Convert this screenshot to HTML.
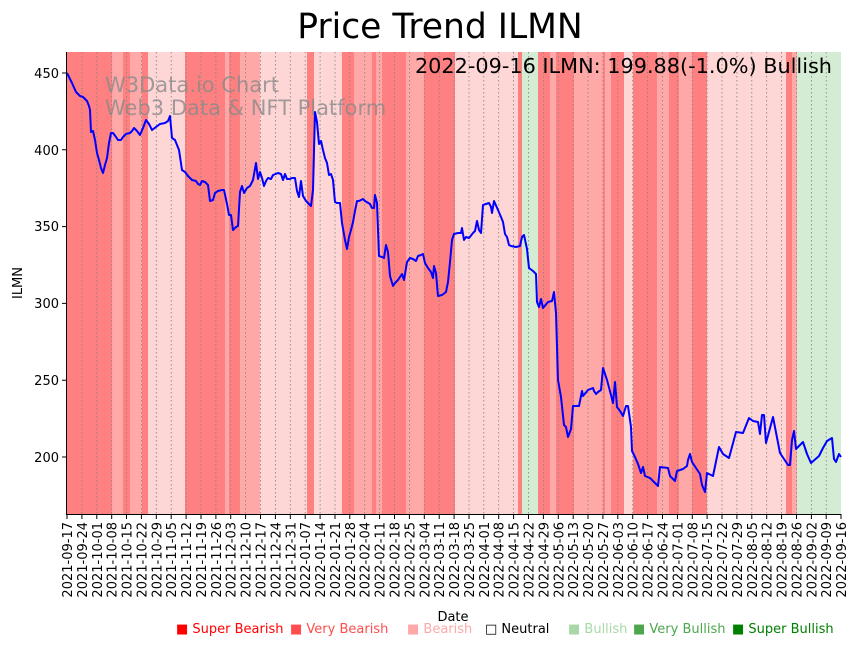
<!DOCTYPE html>
<html><head><meta charset="utf-8"><style>
body{margin:0;background:#fff}
svg text{font-family:"DejaVu Sans","Liberation Sans",sans-serif}
</style></head><body>
<svg width="857" height="646" xmlns="http://www.w3.org/2000/svg">
<rect width="857" height="646" fill="#fff"/>
<g>
<rect x="67" y="52" width="774" height="462" fill="#ffd6d6"/>
<rect x="67" y="52" width="45" height="462" fill="#ff8080"/>
<rect x="112" y="52" width="11" height="462" fill="#ffa8a8"/>
<rect x="123" y="52" width="7" height="462" fill="#ff8080"/>
<rect x="130" y="52" width="12" height="462" fill="#ffa8a8"/>
<rect x="142" y="52" width="6" height="462" fill="#ff8080"/>
<rect x="185" y="52" width="40" height="462" fill="#ff8080"/>
<rect x="225" y="52" width="4" height="462" fill="#ffa8a8"/>
<rect x="229" y="52" width="11" height="462" fill="#ff8080"/>
<rect x="240" y="52" width="20" height="462" fill="#ffa8a8"/>
<rect x="307" y="52" width="7" height="462" fill="#ff8080"/>
<rect x="342" y="52" width="12" height="462" fill="#ff8080"/>
<rect x="354" y="52" width="18" height="462" fill="#ffa8a8"/>
<rect x="372" y="52" width="4" height="462" fill="#ff8080"/>
<rect x="376" y="52" width="6" height="462" fill="#ffa8a8"/>
<rect x="382" y="52" width="24" height="462" fill="#ff8080"/>
<rect x="406" y="52" width="18" height="462" fill="#ffa8a8"/>
<rect x="424" y="52" width="31" height="462" fill="#ff8080"/>
<rect x="518" y="52" width="4" height="462" fill="#ff8080"/>
<rect x="522" y="52" width="16" height="462" fill="#d4ebd4"/>
<rect x="538" y="52" width="12" height="462" fill="#ff8080"/>
<rect x="550" y="52" width="6" height="462" fill="#ffa8a8"/>
<rect x="556" y="52" width="18" height="462" fill="#ff8080"/>
<rect x="574" y="52" width="29" height="462" fill="#ffa8a8"/>
<rect x="603" y="52" width="2" height="462" fill="#ff8080"/>
<rect x="605" y="52" width="6" height="462" fill="#ffa8a8"/>
<rect x="611" y="52" width="13" height="462" fill="#ff8080"/>
<rect x="633" y="52" width="24" height="462" fill="#ff8080"/>
<rect x="657" y="52" width="12" height="462" fill="#ffa8a8"/>
<rect x="669" y="52" width="10" height="462" fill="#ff8080"/>
<rect x="679" y="52" width="13" height="462" fill="#ffa8a8"/>
<rect x="692" y="52" width="15" height="462" fill="#ff8080"/>
<rect x="786" y="52" width="6" height="462" fill="#ff8080"/>
<rect x="792" y="52" width="5" height="462" fill="#ffa8a8"/>
<rect x="797" y="52" width="44" height="462" fill="#d4ebd4"/>
</g>
<g stroke="#808080" stroke-width="0.8" stroke-dasharray="1.5,2.5">
<path d="M81.9 52V514M96.8 52V514M111.7 52V514M126.5 52V514M141.4 52V514M156.3 52V514M171.2 52V514M186.1 52V514M201 52V514M215.9 52V514M230.7 52V514M245.6 52V514M260.5 52V514M275.4 52V514M290.3 52V514M305.2 52V514M320.1 52V514M335 52V514M349.8 52V514M364.7 52V514M379.6 52V514M394.5 52V514M409.4 52V514M424.3 52V514M439.2 52V514M454.1 52V514M469 52V514M483.8 52V514M498.7 52V514M513.6 52V514M528.5 52V514M543.4 52V514M558.3 52V514M573.2 52V514M588 52V514M602.9 52V514M617.8 52V514M632.7 52V514M647.6 52V514M662.5 52V514M677.4 52V514M692.3 52V514M707.1 52V514M722 52V514M736.9 52V514M751.8 52V514M766.7 52V514M781.6 52V514M796.5 52V514M811.4 52V514M826.2 52V514"/>
</g>
<text x="105" y="92" font-size="21" fill="#8a8a8a" fill-opacity="0.8">W3Data.io Chart</text>
<text x="105" y="115" font-size="21" fill="#8a8a8a" fill-opacity="0.8">Web3 Data &amp; NFT Platform</text>
<polyline fill="none" stroke="#0000ff" stroke-width="2" stroke-linejoin="round" points="67,73 72,83 76,92 80,96 83,97 87,101 89,106 90,110 91,132 93,131 95,140 97,153 99,160 101,168 103,173 105,165 107,158 109,143 111,133 113,133 116,137 118,140 121,140 123,137 126,134 130,133 132,131 134,128 137,131 140,135 143,128 146,120 149,124 152,130 156,127 160,124 165,123 168,121 170,116 172,138 175,140 177,145 179,150 182,170 185,172 188,176 192,180 196,181 198,184 200,185 202,181 205,182 208,185 210,201 213,200 215,193 218,191 222,190 224,190 227,204 229,215 231,215 233,230 236,227 238,226 240,192 242,186 244,193 247,188 250,186 253,180 256,163 258,179 260,172 262,178 264,186 266,181 268,178 271,179 273,175 278,173 281,174 283,180 285,174 287,179 290,179 292,178 295,178 297,191 299,197 301,181 303,196 306,201 309,204 311,206 313,190 315,112 317,122 319,144 321,141 323,150 325,158 327,163 329,175 331,174 333,180 335,202 337,203 340,203 342,223 345,240 347,249 349,237 351,230 353,222 355,211 357,201 359,201 363,199 365,201 370,204 372,208 374,208 375,195 377,203 379,256 382,257 384,258 386,245 388,252 390,276 393,286 395,283 398,280 402,274 404,280 407,262 410,258 413,259 416,261 418,256 421,255 423,254 425,263 428,268 431,272 433,278 434,266 436,273 438,296 442,295 446,292 448,282 450,262 452,240 454,234 458,233 461,233 462,228 464,240 466,237 469,238 473,233 475,231 477,221 479,230 481,233 483,205 486,204 489,203 491,207 492,213 494,201 498,210 501,217 503,222 505,234 507,237 509,245 511,246 516,247 520,246 522,237 524,235 527,249 529,268 533,271 536,274 537,302 539,307 541,299 543,308 548,302 552,301 554,292 556,313 558,380 561,397 564,425 566,427 568,437 571,429 573,406 575,406 579,406 582,391 583,396 588,390 593,388 594,391 596,394 598,392 601,390 603,368 607,380 611,395 613,403 615,382 617,407 620,411 623,416 626,406 628,406 631,427 632,451 635,457 638,464 641,473 643,467 645,476 650,478 655,483 658,486 660,467 668,468 670,476 672,478 675,481 677,471 683,469 687,466 688,460 690,454 692,462 696,468 700,474 702,485 705,492 707,473 713,476 719,447 723,454 729,458 736,432 743,433 749,418 753,421 758,422 760,434 762,415 764,415 766,443 773,417 780,453 788,465 790,465 792,440 794,431 796,449 803,442 807,454 811,463 819,456 823,448 827,441 832,438 834,459 836,462 839,454 841,457"/>
<g stroke="#000" stroke-width="1" fill="none">
<path d="M66.5 52V514.5H841"/>
<path d="M62 73H67M62 149.8H67M62 226.6H67M62 303.4H67M62 380.2H67M62 457H67"/>
</g>
<g stroke="#000" stroke-width="1">
<path d="M67 514v5M81.9 514v5M96.8 514v5M111.7 514v5M126.5 514v5M141.4 514v5M156.3 514v5M171.2 514v5M186.1 514v5M201 514v5M215.9 514v5M230.7 514v5M245.6 514v5M260.5 514v5M275.4 514v5M290.3 514v5M305.2 514v5M320.1 514v5M335 514v5M349.8 514v5M364.7 514v5M379.6 514v5M394.5 514v5M409.4 514v5M424.3 514v5M439.2 514v5M454.1 514v5M469 514v5M483.8 514v5M498.7 514v5M513.6 514v5M528.5 514v5M543.4 514v5M558.3 514v5M573.2 514v5M588 514v5M602.9 514v5M617.8 514v5M632.7 514v5M647.6 514v5M662.5 514v5M677.4 514v5M692.3 514v5M707.1 514v5M722 514v5M736.9 514v5M751.8 514v5M766.7 514v5M781.6 514v5M796.5 514v5M811.4 514v5M826.2 514v5M841 514v5"/>
</g>
<g font-size="13" text-anchor="end" fill="#000">
<text x="59" y="78">450</text><text x="59" y="155">400</text><text x="59" y="231">350</text><text x="59" y="308">300</text><text x="59" y="385">250</text><text x="59" y="462">200</text>
</g>
<g font-size="13" text-anchor="end" fill="#000">
<text transform="translate(72,522) rotate(-90)">2021-09-17</text>
<text transform="translate(86.9,522) rotate(-90)">2021-09-24</text>
<text transform="translate(101.8,522) rotate(-90)">2021-10-01</text>
<text transform="translate(116.7,522) rotate(-90)">2021-10-08</text>
<text transform="translate(131.5,522) rotate(-90)">2021-10-15</text>
<text transform="translate(146.4,522) rotate(-90)">2021-10-22</text>
<text transform="translate(161.3,522) rotate(-90)">2021-10-29</text>
<text transform="translate(176.2,522) rotate(-90)">2021-11-05</text>
<text transform="translate(191.1,522) rotate(-90)">2021-11-12</text>
<text transform="translate(206,522) rotate(-90)">2021-11-19</text>
<text transform="translate(220.9,522) rotate(-90)">2021-11-26</text>
<text transform="translate(235.7,522) rotate(-90)">2021-12-03</text>
<text transform="translate(250.6,522) rotate(-90)">2021-12-10</text>
<text transform="translate(265.5,522) rotate(-90)">2021-12-17</text>
<text transform="translate(280.4,522) rotate(-90)">2021-12-24</text>
<text transform="translate(295.3,522) rotate(-90)">2021-12-31</text>
<text transform="translate(310.2,522) rotate(-90)">2022-01-07</text>
<text transform="translate(325.1,522) rotate(-90)">2022-01-14</text>
<text transform="translate(340,522) rotate(-90)">2022-01-21</text>
<text transform="translate(354.8,522) rotate(-90)">2022-01-28</text>
<text transform="translate(369.7,522) rotate(-90)">2022-02-04</text>
<text transform="translate(384.6,522) rotate(-90)">2022-02-11</text>
<text transform="translate(399.5,522) rotate(-90)">2022-02-18</text>
<text transform="translate(414.4,522) rotate(-90)">2022-02-25</text>
<text transform="translate(429.3,522) rotate(-90)">2022-03-04</text>
<text transform="translate(444.2,522) rotate(-90)">2022-03-11</text>
<text transform="translate(459.1,522) rotate(-90)">2022-03-18</text>
<text transform="translate(474,522) rotate(-90)">2022-03-25</text>
<text transform="translate(488.8,522) rotate(-90)">2022-04-01</text>
<text transform="translate(503.7,522) rotate(-90)">2022-04-08</text>
<text transform="translate(518.6,522) rotate(-90)">2022-04-15</text>
<text transform="translate(533.5,522) rotate(-90)">2022-04-22</text>
<text transform="translate(548.4,522) rotate(-90)">2022-04-29</text>
<text transform="translate(563.3,522) rotate(-90)">2022-05-06</text>
<text transform="translate(578.2,522) rotate(-90)">2022-05-13</text>
<text transform="translate(593,522) rotate(-90)">2022-05-20</text>
<text transform="translate(607.9,522) rotate(-90)">2022-05-27</text>
<text transform="translate(622.8,522) rotate(-90)">2022-06-03</text>
<text transform="translate(637.7,522) rotate(-90)">2022-06-10</text>
<text transform="translate(652.6,522) rotate(-90)">2022-06-17</text>
<text transform="translate(667.5,522) rotate(-90)">2022-06-24</text>
<text transform="translate(682.4,522) rotate(-90)">2022-07-01</text>
<text transform="translate(697.3,522) rotate(-90)">2022-07-08</text>
<text transform="translate(712.1,522) rotate(-90)">2022-07-15</text>
<text transform="translate(727,522) rotate(-90)">2022-07-22</text>
<text transform="translate(741.9,522) rotate(-90)">2022-07-29</text>
<text transform="translate(756.8,522) rotate(-90)">2022-08-05</text>
<text transform="translate(771.7,522) rotate(-90)">2022-08-12</text>
<text transform="translate(786.6,522) rotate(-90)">2022-08-19</text>
<text transform="translate(801.5,522) rotate(-90)">2022-08-26</text>
<text transform="translate(816.4,522) rotate(-90)">2022-09-02</text>
<text transform="translate(831.2,522) rotate(-90)">2022-09-09</text>
<text transform="translate(846,522) rotate(-90)">2022-09-16</text>
</g>
<text x="440" y="38" font-size="34.5" text-anchor="middle" fill="#000">Price Trend ILMN</text>
<text x="832" y="73" font-size="20.8" text-anchor="end" fill="#000">2022-09-16 ILMN: 199.88(-1.0%) Bullish</text>
<text transform="translate(22,283) rotate(-90)" font-size="13" text-anchor="middle">ILMN</text>
<text x="453" y="621" font-size="13" text-anchor="middle">Date</text>
<g font-size="13">
<text x="176" y="633" fill="#ff0000">■ Super Bearish</text>
<text x="290" y="633" fill="#ff4d4d">■ Very Bearish</text>
<text x="407" y="633" fill="#ffa8a8">■ Bearish</text>
<text x="485" y="633" fill="#000">□ Neutral</text>
<text x="568" y="633" fill="#a8d8a8">■ Bullish</text>
<text x="633" y="633" fill="#4da64d">■ Very Bullish</text>
<text x="732" y="633" fill="#008000">■ Super Bullish</text>
</g>
</svg>
</body></html>
